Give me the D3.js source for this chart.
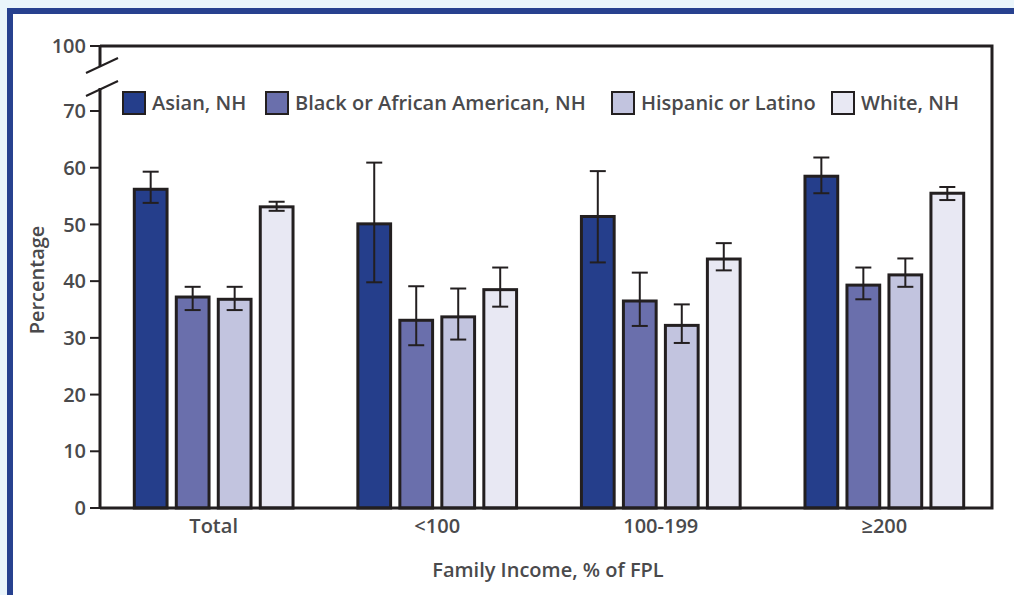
<!DOCTYPE html>
<html>
<head>
<meta charset="utf-8">
<script src="https://cdn.jsdelivr.net/npm/d3@7"></script>
<style>
  body { margin: 0; background: #eaf5fb; }
  svg { display: block; }
  text { font-family: "Open Sans", sans-serif; font-weight: 600; fill: #4a4a4c; }
</style>
</head>
<body>
<script>
// data
var groups = ["Total", "<100", "100-199", "\u2265200"];
var series = ["Asian, NH", "Black or African American, NH", "Hispanic or Latino", "White, NH"];
var colors = ["#253e8b", "#6a6fac", "#c2c4df", "#e8e8f3"];

var asian    = [56.2, 50.1, 51.4, 58.5];
var black    = [37.2, 33.1, 36.5, 39.3];
var hispanic = [36.8, 33.7, 32.2, 41.1];
var white    = [53.1, 38.5, 43.9, 55.5];

var asianLo    = [53.8, 39.8, 43.3, 55.5];
var asianHi    = [59.3, 60.9, 59.4, 61.8];
var blackLo    = [34.9, 28.7, 32.1, 36.8];
var blackHi    = [39.0, 39.1, 41.5, 42.4];
var hispanicLo = [34.9, 29.7, 29.1, 39.0];
var hispanicHi = [39.0, 38.7, 35.9, 44.0];
var whiteLo    = [52.4, 35.5, 41.9, 54.3];
var whiteHi    = [54.0, 42.4, 46.7, 56.6];

var yTicks = [0, 10, 20, 30, 40, 50, 60, 70];
var topTick = 100;

var values = [asian, black, hispanic, white];
var lows = [asianLo, blackLo, hispanicLo, whiteLo];
var highs = [asianHi, blackHi, hispanicHi, whiteHi];

var data = [];
groups.forEach(function(g, gi) {
    series.forEach(function(s, si) {
        data.push({ group: g, key: s, value: values[si][gi], lo: lows[si][gi], hi: highs[si][gi] });
    });
});

var W = 1014, H = 595;
var plotLeft = 100, plotRight = 992, plotTop = 46, plotBottom = 508;

var svg = d3.select("body").append("svg")
    .attr("width", W)
    .attr("height", H);

// blue frame
svg.append("rect")
    .attr("x", 10).attr("y", 11)
    .attr("width", W + 20).attr("height", H + 20)
    .attr("fill", "#fff")
    .attr("stroke", "#27418f")
    .attr("stroke-width", 6);

var x0 = d3.scaleBand()
    .domain(groups)
    .range([plotLeft + 3, plotRight + 3])
    .paddingInner(0.29)
    .paddingOuter(0.14);

var x1 = d3.scaleBand()
    .domain(series)
    .range([0, x0.bandwidth()])
    .paddingInner(0.22);

// y: 0-70 continuous, axis broken up to 100
var y = d3.scaleLinear()
    .domain([0, 70])
    .range([plotBottom, 111]);

var color = d3.scaleOrdinal().domain(series).range(colors);

// bars
svg.append("g").selectAll("rect")
    .data(data)
    .enter().append("rect")
    .attr("x", function(d) { return x0(d.group) + x1(d.key); })
    .attr("y", function(d) { return y(d.value); })
    .attr("width", x1.bandwidth())
    .attr("height", function(d) { return y(0) - y(d.value); })
    .attr("fill", function(d) { return color(d.key); })
    .attr("stroke", "#231f20")
    .attr("stroke-width", 3);

// error bars
var err = svg.append("g")
    .attr("stroke", "#231f20")
    .attr("stroke-width", 2);
data.forEach(function(d) {
    var cx = x0(d.group) + x1(d.key) + x1.bandwidth() / 2;
    err.append("line").attr("x1", cx).attr("x2", cx).attr("y1", y(d.hi)).attr("y2", y(d.lo));
    err.append("line").attr("x1", cx - 8).attr("x2", cx + 8).attr("y1", y(d.hi)).attr("y2", y(d.hi));
    err.append("line").attr("x1", cx - 8).attr("x2", cx + 8).attr("y1", y(d.lo)).attr("y2", y(d.lo));
});

// plot frame (top, right, bottom) and broken left axis
var frame = svg.append("g")
    .attr("stroke", "#231f20")
    .attr("stroke-width", 3)
    .attr("fill", "none");
frame.append("path")
    .attr("d", "M" + plotLeft + "," + plotTop + "H" + plotRight + "V" + plotBottom + "H" + plotLeft);
frame.append("line").attr("x1", plotLeft).attr("x2", plotLeft).attr("y1", plotTop).attr("y2", 66);
frame.append("line").attr("x1", plotLeft).attr("x2", plotLeft).attr("y1", 88).attr("y2", plotBottom);
frame.append("line").attr("x1", 86).attr("y1", 73).attr("x2", 118).attr("y2", 58).attr("stroke-width", 2);
frame.append("line").attr("x1", 86).attr("y1", 96).attr("x2", 118).attr("y2", 81).attr("stroke-width", 2);

// y ticks
var yAxis = svg.append("g");
function addTick(t, ty) {
    yAxis.append("line")
        .attr("x1", plotLeft - 10).attr("x2", plotLeft)
        .attr("y1", ty).attr("y2", ty)
        .attr("stroke", "#231f20").attr("stroke-width", 2);
    yAxis.append("text")
        .attr("x", plotLeft - 14).attr("y", ty)
        .attr("dy", "0.36em")
        .attr("text-anchor", "end")
        .attr("font-size", 20)
        .text(t);
}
yTicks.forEach(function(t) { addTick(t, y(t)); });
addTick(topTick, plotTop);

// x labels
svg.append("g").selectAll("text")
    .data(groups)
    .enter().append("text")
    .attr("x", function(d) { return x0(d) + x0.bandwidth() / 2; })
    .attr("y", 533)
    .attr("text-anchor", "middle")
    .attr("font-size", 20)
    .text(function(d) { return d; });

svg.append("text")
    .attr("x", 548)
    .attr("y", 577)
    .attr("text-anchor", "middle")
    .attr("font-size", 20)
    .text("Family Income, % of FPL");

svg.append("text")
    .attr("transform", "translate(44,280) rotate(-90)")
    .attr("text-anchor", "middle")
    .attr("font-size", 20)
    .text("Percentage");

// legend
var legendX = [123, 266, 612, 832];
var legend = svg.append("g")
    .selectAll("g")
    .data(series)
    .enter().append("g")
    .attr("transform", function(d, i) { return "translate(" + legendX[i] + ",92)"; });
legend.append("rect")
    .attr("width", 22).attr("height", 22)
    .attr("fill", color)
    .attr("stroke", "#231f20")
    .attr("stroke-width", 2);
legend.append("text")
    .attr("x", 29).attr("y", 11)
    .attr("dy", "0.36em")
    .attr("font-size", 20)
    .text(function(d) { return d; });
</script>
</body>
</html>
